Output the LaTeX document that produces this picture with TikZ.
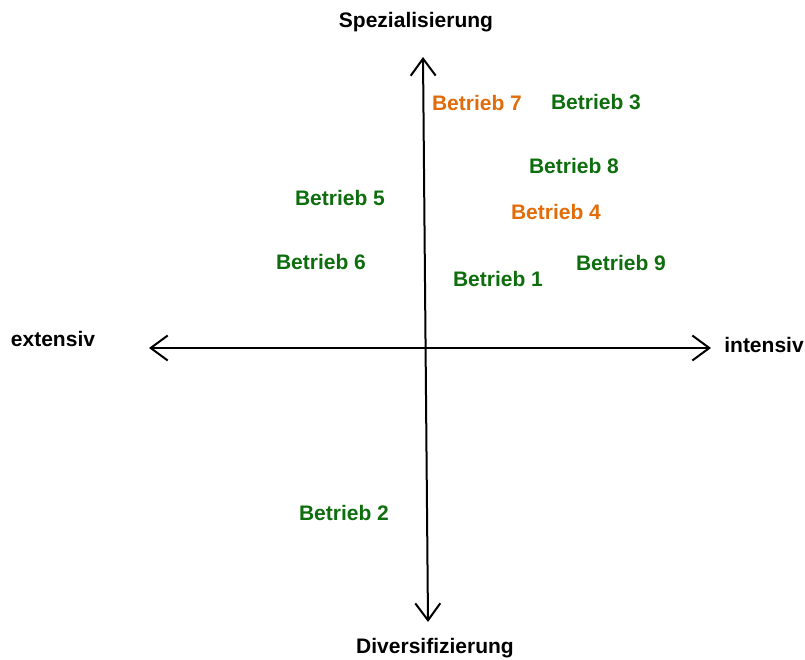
\documentclass[tikz,border=0pt]{standalone}
\usepackage{fontspec}
\setmainfont{Liberation Sans}
\usetikzlibrary{arrows.meta}
\definecolor{betriebgreen}{HTML}{0E6E0E}
\definecolor{betrieborange}{HTML}{E36C0A}
\tikzset{
  axislabel/.style={font=\fontsize{21}{25}\selectfont\bfseries, text=black, inner sep=0pt},
  farm/.style={font=\fontsize{21}{25}\selectfont\bfseries, text=betriebgreen, inner sep=0pt},
  farmhi/.style={farm, text=betrieborange},
  barb/.tip={Straight Barb[length=17pt,width=25pt,line width=2pt]},
  axisline/.style={line width=2pt, {barb}-{barb}}
}
\begin{document}
\begin{tikzpicture}[x=1pt,y=-1pt]
\useasboundingbox (0,0) rectangle (805,660);
% axis end points
\coordinate (top) at (423,57);
\coordinate (bottom) at (428,622);
\coordinate (left) at (149,348);
\coordinate (right) at (711,348);
\draw[axisline] (bottom) -- (top);
\draw[axisline] (left) -- (right);
% axis labels
\node[axislabel] (spez) at (416,22) {Spezialisierung};
\node[axislabel] (div) at (435,648) {Diversifizierung};
\node[axislabel] (ext) at (53,339) {extensiv};
\node[axislabel] (int) at (764,345) {intensiv};
% farms
\node[farmhi] (b7) at (477,103) {Betrieb 7};
\node[farm] (b3) at (596,102) {Betrieb 3};
\node[farm] (b8) at (574,166) {Betrieb 8};
\node[farm] (b5) at (340,198) {Betrieb 5};
\node[farmhi] (b4) at (556,212) {Betrieb 4};
\node[farm] (b6) at (321,262) {Betrieb 6};
\node[farm] (b9) at (621,263) {Betrieb 9};
\node[farm] (b1) at (498,279) {Betrieb 1};
\node[farm] (b2) at (344,513) {Betrieb 2};
\end{tikzpicture}
\end{document}
